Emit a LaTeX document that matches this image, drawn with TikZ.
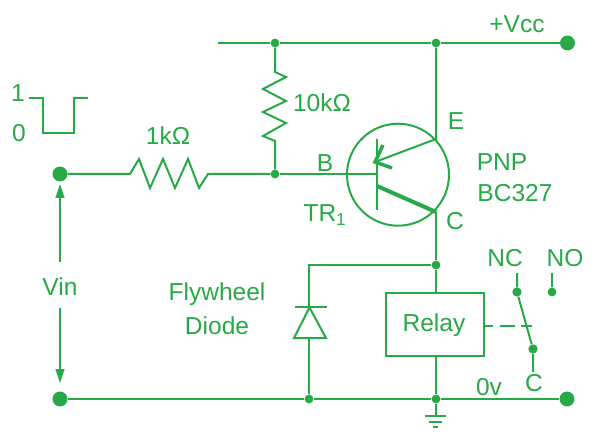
\documentclass[tikz,border=0pt]{standalone}
\usepackage{fontspec}
\usetikzlibrary{arrows.meta}
\setmainfont{Liberation Sans}
\definecolor{cg}{HTML}{28A948}
\newcommand{\lbl}{\fontsize{18.4}{18.4}\selectfont}
\tikzset{
  wire/.style={draw=cg,line width=1.5pt,line join=miter},
  dotsmall/.style={circle,fill=cg,inner sep=0pt,minimum size=6.6pt},
  dotmid/.style={circle,fill=cg,inner sep=0pt,minimum size=7pt},
  dotbig/.style={circle,fill=cg,inner sep=0pt,minimum size=11.2pt},
  lab/.style={text=cg,font=\lbl,inner sep=0pt,anchor=base},
  relaybox/.style={draw=cg,line width=1.5pt,fill=white,minimum width=73.5pt,minimum height=47pt,inner sep=0pt},
  vinarrow/.style={wire,-{Triangle[length=10.5pt,width=6.5pt]}}
}
\begin{document}
\begin{tikzpicture}[x=0.75pt,y=-0.75pt]
\useasboundingbox[fill=white] (0,0) rectangle (600,442);
% junctions and terminals
\node[dotsmall] (jt) at (275,43) {};
\node[dotsmall] (jv) at (436,43) {};
\node[dotbig] (vcc) at (567.5,43) {};
\coordinate (tl) at (218,43);
\node[dotbig] (in) at (60,174) {};
\node[dotsmall] (jb) at (275,174) {};
\node[dotbig] (gndl) at (60,399) {};
\node[dotsmall] (jd) at (309,399) {};
\node[dotsmall] (jg) at (436,399) {};
\node[dotbig] (gndr) at (567,399) {};
\node[dotsmall] (jc) at (436,265) {};
% rails
\draw[wire] (tl) -- (jt) -- (jv) -- (vcc);
\draw[wire] (gndl) -- (jd) -- (jg) -- (gndr);
% 10k resistor
\draw[wire] (jt) -- (275,72) -- (286,77) -- (263,89) -- (286,101) -- (263,112) -- (286,123) -- (263,136) -- (275,141) -- (jb);
% 1k resistor
\draw[wire] (in) -- (130,174) -- (139,159) -- (150,188) -- (163,159) -- (175,188) -- (188,159) -- (199,188) -- (208,174) -- (jb);
% transistor
\coordinate (bb) at (377,174);
\coordinate (em) at (436,139);
\coordinate (co) at (436,212);
\coordinate (arr) at (375,162);
\coordinate (cs) at (377,186);
\coordinate (bt) at (377,139);
\coordinate (bd) at (377,210);
\coordinate (bar1) at (383,145);
\coordinate (bar2) at (392,168);
\draw[wire] (398,174.7) circle (51);
\draw[wire] (jb) -- (bb);
\draw[wire] (bt) -- (bd);
\draw[wire] (jv) -- (em) -- (arr);
\draw[draw=cg,line width=3pt] (cs) -- (co);
\draw[wire] (co) -- (jc);
\draw[draw=cg,line width=2.6pt] (bar1) -- (arr) -- (bar2);
% diode
\coordinate (dk) at (309,265);
\coordinate (dtop) at (309,307);
\coordinate (dbar1) at (295,307);
\coordinate (dbar2) at (327,307);
\coordinate (dbl) at (294,338);
\coordinate (dbr) at (326,338);
\coordinate (dbm) at (309,338);
\draw[wire] (jc) -- (dk) -- (dtop);
\draw[wire] (dbar1) -- (dbar2);
\draw[wire] (309.5,307.5) -- (dbl) -- (dbr) -- cycle;
\draw[wire] (dbm) -- (jd);
% relay
\node[relaybox] (relay) at (435,324.5) {};
\node[lab] (rtxt) at (434,331) {Relay};
\draw[wire] (jc) -- (436,293);
\draw[wire] (436,356) -- (jg);
% switch
\node[dotmid] (nc) at (517,292) {};
\node[dotsmall] (no) at (552,292) {};
\node[dotmid] (cc) at (533,349) {};
\coordinate (ncu) at (517,273);
\coordinate (nou) at (552,273);
\coordinate (ccd) at (533,372);
\coordinate (dashs) at (484,326);
\coordinate (dashe) at (532,326);
\draw[wire] (ncu) -- (nc) -- (cc) -- (ccd);
\draw[wire] (nou) -- (no);
\draw[wire,dash pattern=on 11.25pt off 5pt,dash phase=4.5pt] (dashs) -- (dashe);
% ground
\coordinate (g0) at (436,416);
\coordinate (g1l) at (425,416);
\coordinate (g1r) at (446,416);
\coordinate (g2l) at (429,422);
\coordinate (g2r) at (442,422);
\coordinate (g3l) at (433,427);
\coordinate (g3r) at (438,427);
\draw[wire] (jg) -- (g0);
\draw[wire] (g1l) -- (g1r);
\draw[wire] (g2l) -- (g2r);
\draw[wire] (g3l) -- (g3r);
% Vin arrows
\coordinate (au) at (60,184);
\coordinate (ad) at (60,383);
\coordinate (as) at (60,262);
\coordinate (bs) at (60,308);
\draw[vinarrow] (as) -- (au);
\draw[vinarrow] (bs) -- (ad);
% pulse
\coordinate (p0) at (29,98);
\coordinate (p1) at (43,98);
\coordinate (p2) at (43,133);
\coordinate (p3) at (74,133);
\coordinate (p4) at (74,98);
\coordinate (p5) at (88,98);
\draw[wire] (p0) -- (p1) -- (p2) -- (p3) -- (p4) -- (p5);
% labels
\node[lab] (t1) at (18,102) {1};
\node[lab] (t0) at (19,142) {0};
\node[lab] (r1) at (168,145) {1kΩ};
\node[lab] (r2) at (322,112) {10kΩ};
\node[lab] (tb) at (325,172) {B};
\node[lab] (te) at (456,130) {E};
\node[lab] (tc) at (455,229) {C};
\node[lab] (tr) at (325,222) {TR$_{\mathrm{1}}$};
\node[lab] (pnp) at (502,171) {PNP};
\node[lab] (bc) at (515,202) {BC327};
\node[lab] (vcct) at (517,33) {+Vcc};
\node[lab] (vin) at (60,295) {Vin};
\node[lab] (fw) at (217,300) {Flywheel};
\node[lab] (di) at (217,334) {Diode};
\node[lab] (tnc) at (505,267) {NC};
\node[lab] (tno) at (565,267) {NO};
\node[lab] (tc2) at (534,391) {C};
\node[lab] (tv) at (489,395) {0v};
\end{tikzpicture}
\end{document}
